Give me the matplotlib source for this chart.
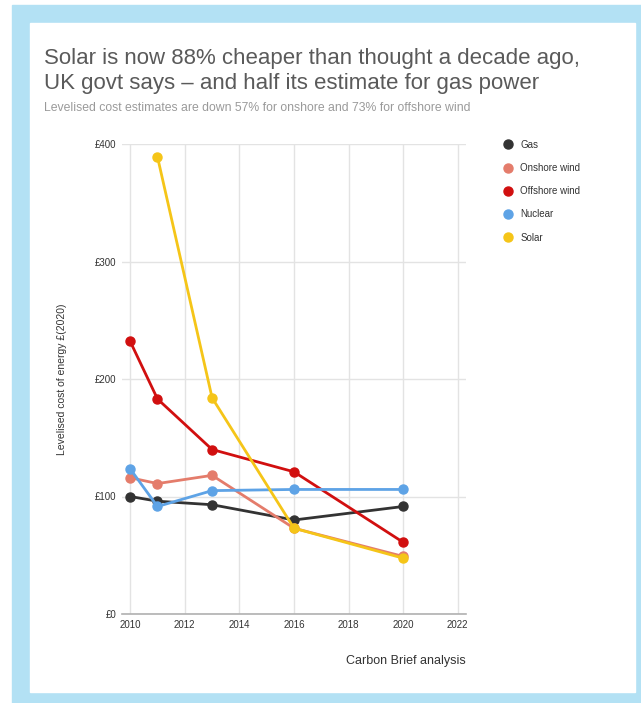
#!/usr/bin/env python3
"""Levelised cost estimates by technology, UK govt (Carbon Brief)."""

import matplotlib
matplotlib.use("Agg")
import matplotlib.pyplot as plt
from matplotlib.patches import Rectangle

plt.rcParams["font.family"] = ["Liberation Sans", "DejaVu Sans"]

years_gas = [2010, 2011, 2013, 2016, 2020]
gas = [100, 96, 93, 80, 91.5]

years_onshore = [2010, 2011, 2013, 2016, 2020]
onshore = [116, 111, 118, 73, 49]

years_offshore = [2010, 2011, 2013, 2016, 2020]
offshore = [232, 183, 140, 121, 61]

years_nuclear = [2010, 2011, 2013, 2016, 2020]
nuclear = [123.5, 91.5, 105, 106, 106]

years_solar = [2011, 2013, 2016, 2020]
solar = [389, 184, 73, 47.5]

series = [
    ("Gas", years_gas, gas, "#333333"),
    ("Onshore wind", years_onshore, onshore, "#e47c6b"),
    ("Offshore wind", years_offshore, offshore, "#d10f0f"),
    ("Nuclear", years_nuclear, nuclear, "#5ea3e6"),
    ("Solar", years_solar, solar, "#f5c518"),
]

x_ticks = [2010, 2012, 2014, 2016, 2018, 2020, 2022]
y_ticks = [0, 100, 200, 300, 400]
y_tick_labels = ["£0", "£100", "£200", "£300", "£400"]

W, H = 641, 703
fig = plt.figure(figsize=(W / 100, H / 100), dpi=100)

# blue frame and white panel
fig.patches.append(Rectangle((12 / W, 0), 629 / W, 1 - 5 / H,
                             transform=fig.transFigure, color="#b3e1f4", zorder=-2))
fig.patches.append(Rectangle((30 / W, 1 - 692 / H), 605 / W, 669 / H,
                             transform=fig.transFigure, color="white", zorder=-1))

fig.text(44 / W, 1 - 64 / H, "Solar is now 88% cheaper than thought a decade ago,",
         fontsize=16, color="#5a5a5a", va="baseline")
fig.text(44 / W, 1 - 89 / H, "UK govt says – and half its estimate for gas power",
         fontsize=16, color="#5a5a5a", va="baseline")
fig.text(44 / W, 1 - 111 / H,
         "Levelised cost estimates are down 57% for onshore and 73% for offshore wind",
         fontsize=8.8, color="#9a9a9a", va="baseline")

ax = fig.add_axes([122 / W, 1 - 614 / H, 344 / W, 470 / H])
ax.set_zorder(2)
for name, xs, ys, color in series:
    ax.plot(xs, ys, color=color, lw=2, marker="o", ms=6.5, label=name,
            solid_capstyle="round", zorder=3)

ax.set_xlim(2009.7, 2022.3)
ax.set_ylim(0, 400)
ax.set_xticks(x_ticks)
ax.set_yticks(y_ticks)
ax.set_yticklabels(y_tick_labels)
ax.tick_params(length=0, labelsize=7, colors="#333333", pad=4)
ax.grid(True, color="#e3e3e3", lw=1)
ax.set_axisbelow(True)
for side in ["top", "right", "left"]:
    ax.spines[side].set_visible(False)
ax.spines["bottom"].set_color("#b0b0b0")
ax.spines["bottom"].set_linewidth(1.2)
ax.set_ylabel("Levelised cost of energy £(2020)", fontsize=7.5, color="#333333",
              labelpad=20)

ax.legend(loc="upper left", bbox_to_anchor=(499 / W, 1 - 131 / H),
          bbox_transform=fig.transFigure, frameon=False, fontsize=7,
          handlelength=0, handletextpad=1.3, markerscale=1.0,
          labelspacing=1.36, labelcolor="#333333")

fig.text(466 / W, 1 - 664 / H, "Carbon Brief analysis", fontsize=9,
         color="#333333", ha="right", va="baseline")

fig.savefig("out.png", dpi=100)
